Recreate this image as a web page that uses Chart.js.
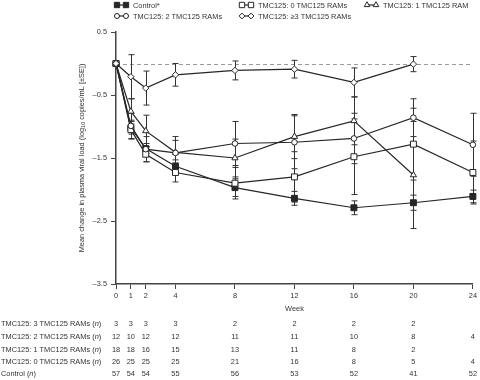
<!DOCTYPE html>
<html>
<head>
<meta charset="utf-8">
<script src="https://cdn.jsdelivr.net/npm/chart.js@4/dist/chart.umd.min.js"></script>
<style>
  html, body { margin: 0; padding: 0; background: #fff; }
</style>
</head>
<body>
<canvas id="vlChart" width="480" height="380"></canvas>
<script>
// Study weeks and axis ticks
const weeks = [0, 1, 2, 4, 8, 12, 16, 20, 24];
const yTicks = [0.5, -0.5, -1.5, -2.5, -3.5];

// Mean change in viral load (log10 copies/mL)
const controlMean = [0, -1.02, -1.35, -1.63, -1.97, -2.14, -2.29, -2.21, -2.11];
const ram0Mean    = [0, -1.05, -1.44, -1.73, -1.90, -1.80, -1.48, -1.28, -1.73];
const ram1Mean    = [0, -0.76, -1.07, -1.41, -1.50, -1.16, -0.91, -1.77, null];
const ram2Mean    = [0, -0.99, -1.36, -1.42, -1.27, -1.25, -1.19, -0.86, -1.29];
const ram3Mean    = [0, -0.21, -0.39, -0.18, -0.11, -0.09, -0.30, -0.01, null];

// Standard errors
const controlSE = [0, 0.10, 0.08, 0.10, 0.14, 0.11, 0.11, 0.12, 0.10];
const ram0SE    = [0, 0.15, 0.12, 0.15, 0.25, 0.40, 0.60, 0.57, 0.50];
const ram1SE    = [0, 0.20, 0.25, 0.25, 0.30, 0.35, 0.38, 0.85, null];
const ram2SE    = [0, 0.20, 0.20, 0.20, 0.35, 0.42, 0.40, 0.30, 0.50];
const ram3SE    = [0, 0.35, 0.27, 0.18, 0.15, 0.14, 0.23, 0.12, null];

// Patients at each week (n)
const tableLabels = [
    'TMC125: 3 TMC125 RAMs',
    'TMC125: 2 TMC125 RAMs',
    'TMC125: 1 TMC125 RAMs',
    'TMC125: 0 TMC125 RAMs',
    'Control'
];
const n3   = [3, 3, 3, 3, 2, 2, 2, 2, null];
const n2   = [12, 10, 12, 12, 11, 11, 10, 8, 4];
const n1   = [18, 18, 16, 15, 13, 11, 8, 2, null];
const n0   = [26, 25, 25, 25, 21, 16, 8, 5, 4];
const nCtl = [57, 54, 54, 55, 56, 53, 52, 41, 52];

const FONT = "'Liberation Sans', Arial, sans-serif";
const INK = '#262626';
const TEXT = '#333';

function toPoints(means, se) {
    const pts = [];
    weeks.forEach((w, i) => {
        if (means[i] !== null) pts.push({ x: w, y: means[i], se: se[i] });
    });
    return pts;
}

function lineDataset(label, means, se, style, radius, fill) {
    return {
        label: label,
        data: toPoints(means, se),
        borderColor: INK,
        borderWidth: 1.2,
        pointStyle: style,
        pointRadius: radius,
        pointBackgroundColor: fill,
        pointBorderColor: INK,
        pointBorderWidth: 1,
        tension: 0,
        fill: false,
        clip: false
    };
}

const datasets = [
    lineDataset('TMC125: \u22653 TMC125 RAMs', ram3Mean, ram3SE, 'rectRot', 3.2, '#fff'),
    lineDataset('TMC125: 2 TMC125 RAMs', ram2Mean, ram2SE, 'circle', 2.8, '#fff'),
    lineDataset('TMC125: 1 TMC125 RAM', ram1Mean, ram1SE, 'triangle', 3.6, '#fff'),
    lineDataset('TMC125: 0 TMC125 RAMs', ram0Mean, ram0SE, 'rect', 4.2, '#fff'),
    lineDataset('Control*', controlMean, controlSE, 'rect', 4.2, INK)
];

// Dashed zero line and SE whiskers, under the markers
const errorBars = {
    id: 'errorBars',
    beforeDatasetsDraw(chart) {
        const { ctx, chartArea, scales: { x, y } } = chart;
        ctx.save();
        const y0 = Math.round(y.getPixelForValue(0)) + 0.5;
        ctx.strokeStyle = '#999';
        ctx.lineWidth = 1;
        ctx.setLineDash([4, 3]);
        ctx.beginPath();
        ctx.moveTo(chartArea.left, y0);
        ctx.lineTo(chartArea.right, y0);
        ctx.stroke();
        ctx.setLineDash([]);

        ctx.strokeStyle = '#333';
        chart.data.datasets.forEach(ds => {
            ds.data.forEach(p => {
                if (!p.se) return;
                const px = Math.round(x.getPixelForValue(p.x)) + 0.5;
                const top = y.getPixelForValue(p.y + p.se);
                const bot = y.getPixelForValue(p.y - p.se);
                ctx.beginPath();
                ctx.moveTo(px, top); ctx.lineTo(px, bot);
                ctx.moveTo(px - 3, top); ctx.lineTo(px + 3, top);
                ctx.moveTo(px - 3, bot); ctx.lineTo(px + 3, bot);
                ctx.stroke();
            });
        });
        ctx.restore();
    }
};

// Legend, y title, week label and the n table
const extras = {
    id: 'extras',
    afterDraw(chart) {
        const { ctx, chartArea, scales: { x } } = chart;
        const ds = chart.data.datasets;
        ctx.save();
        ctx.font = '7.4px ' + FONT;
        ctx.fillStyle = TEXT;
        ctx.textBaseline = 'middle';

        // legend: [dataset index, x of first marker, y]
        const legendSlots = [[4, 117, 5], [3, 242, 5], [2, 367, 5], [1, 117, 16], [0, 242, 16]];
        legendSlots.forEach(([i, lx, ly]) => {
            const d = ds[i];
            ctx.strokeStyle = INK;
            ctx.lineWidth = 1.2;
            ctx.beginPath();
            ctx.moveTo(lx, ly); ctx.lineTo(lx + 9, ly);
            ctx.stroke();
            [lx, lx + 9].forEach(px => {
                ctx.fillStyle = d.pointBackgroundColor;
                ctx.strokeStyle = INK;
                ctx.lineWidth = 1;
                Chart.helpers.drawPoint(ctx, {
                    pointStyle: d.pointStyle,
                    radius: d.pointRadius * 0.9,
                    rotation: 0,
                    borderWidth: 1
                }, px, ly);
            });
            ctx.fillStyle = TEXT;
            ctx.textAlign = 'left';
            ctx.fillText(d.label, lx + 16, ly + 0.5);
        });

        // y axis title with subscript
        const yMid = (chartArea.top + chartArea.bottom) / 2;
        const p1 = 'Mean change in plasma viral load (log';
        const sub = '10';
        const p2 = ' copies/mL [\u00b1SE])';
        ctx.save();
        ctx.translate(82, yMid);
        ctx.rotate(-Math.PI / 2);
        ctx.font = '7.4px ' + FONT;
        const w1 = ctx.measureText(p1).width;
        const w3 = ctx.measureText(p2).width;
        ctx.font = '5.4px ' + FONT;
        const w2 = ctx.measureText(sub).width;
        let tx = -(w1 + w2 + w3) / 2;
        ctx.textAlign = 'left';
        ctx.font = '7.4px ' + FONT;
        ctx.fillText(p1, tx, 0);
        ctx.font = '5.4px ' + FONT;
        ctx.fillText(sub, tx + w1, 2);
        ctx.font = '7.4px ' + FONT;
        ctx.fillText(p2, tx + w1 + w2, 0);
        ctx.restore();

        // x axis title
        ctx.textAlign = 'center';
        ctx.fillText('Week', (chartArea.left + chartArea.right) / 2, 309);

        // n table
        const rows = [n3, n2, n1, n0, nCtl];
        const rowY = [324, 337, 350, 362, 374];
        rows.forEach((vals, r) => {
            const ry = rowY[r];
            ctx.textAlign = 'left';
            ctx.font = '7.4px ' + FONT;
            const lab = tableLabels[r] + ' (';
            ctx.fillText(lab, 1, ry);
            let cx = 1 + ctx.measureText(lab).width;
            ctx.font = 'italic 7.4px ' + FONT;
            ctx.fillText('n', cx, ry);
            cx += ctx.measureText('n').width;
            ctx.font = '7.4px ' + FONT;
            ctx.fillText(')', cx, ry);
            ctx.textAlign = 'center';
            vals.forEach((v, i) => {
                if (v === null) return;
                ctx.fillText(String(v), x.getPixelForValue(weeks[i]), ry);
            });
        });
        ctx.restore();
    }
};

const axisGrid = {
    display: true,
    drawOnChartArea: false,
    drawTicks: true,
    tickLength: 5,
    color: '#444',
    lineWidth: 1
};

new Chart(document.getElementById('vlChart'), {
    type: 'line',
    data: { datasets: datasets },
    options: {
        responsive: false,
        animation: false,
        events: [],
        layout: { padding: { top: 32, right: 6, left: 0, bottom: 0 } },
        plugins: {
            legend: { display: false },
            tooltip: { enabled: false }
        },
        scales: {
            x: {
                type: 'linear',
                min: 0,
                max: 24,
                afterBuildTicks: scale => { scale.ticks = weeks.map(v => ({ value: v })); },
                afterFit: scale => { scale.height = 96; },
                grid: axisGrid,
                border: { display: true, color: '#444', width: 1.5 },
                ticks: {
                    color: TEXT,
                    font: { family: FONT, size: 7.4 },
                    padding: 3,
                    maxRotation: 0,
                    autoSkip: false
                }
            },
            y: {
                type: 'linear',
                min: -3.5,
                max: 0.5,
                afterBuildTicks: scale => { scale.ticks = yTicks.map(v => ({ value: v })); },
                afterFit: scale => { scale.width = 116; },
                grid: axisGrid,
                border: { display: true, color: '#444', width: 1.5 },
                ticks: {
                    color: TEXT,
                    font: { family: FONT, size: 7.4 },
                    padding: 4,
                    autoSkip: false,
                    callback: v => (v < 0 ? '\u2013' : '') + Math.abs(v).toFixed(1)
                }
            }
        }
    },
    plugins: [errorBars, extras]
});
</script>
</body>
</html>
